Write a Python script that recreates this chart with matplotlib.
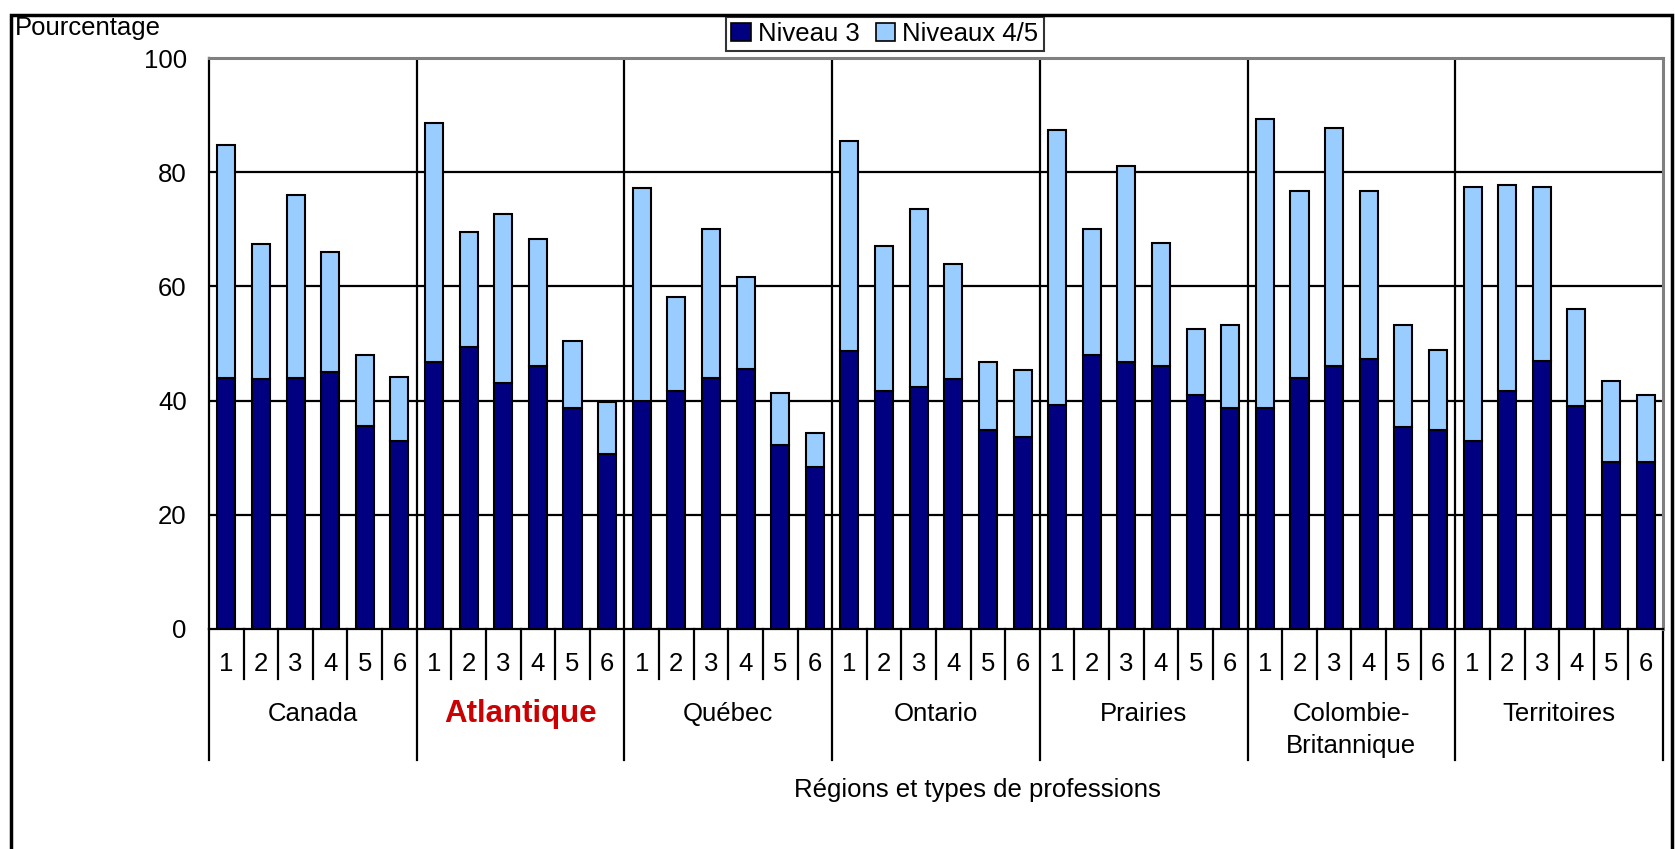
import matplotlib
matplotlib.use("Agg")
import matplotlib.pyplot as plt
import matplotlib.transforms as mtransforms
from matplotlib.patches import Rectangle, Patch
import numpy as np

plt.rcParams['font.family'] = ['Liberation Sans', 'DejaVu Sans']

# ---------------- data ----------------
regions = ["Canada", "Atlantique", "Québec", "Ontario", "Prairies",
           "Colombie-\nBritannique", "Territoires"]
professions = ["1", "2", "3", "4", "5", "6"]
y_ticks = [0, 20, 40, 60, 80, 100]

niveau3 = [
    44.0, 43.7, 44.0, 45.0, 35.6, 33.0,   # Canada
    46.7, 49.3, 43.0, 46.0, 38.7, 30.6,   # Atlantique
    39.9, 41.6, 44.0, 45.6, 32.2, 28.3,   # Québec
    48.6, 41.6, 42.3, 43.7, 34.9, 33.6,   # Ontario
    39.3, 48.0, 46.7, 46.0, 41.0, 38.7,   # Prairies
    38.7, 44.0, 46.0, 47.3, 35.3, 34.9,   # Colombie-Britannique
    33.0, 41.6, 47.0, 39.0, 29.3, 29.3,   # Territoires
]
niveaux45 = [
    40.7, 23.7, 32.0, 21.0, 12.3, 11.1,
    42.0, 20.3, 29.6, 22.3, 11.7, 9.1,
    37.4, 16.6, 26.0, 16.0, 9.1, 6.0,
    36.8, 25.4, 31.3, 20.3, 11.8, 11.8,
    48.1, 22.0, 34.3, 21.6, 11.6, 14.5,
    50.7, 32.7, 41.7, 29.4, 18.0, 13.9,
    44.4, 36.1, 30.4, 17.0, 14.1, 11.7,
]

# ---------------- layout ----------------
W, H = 1675, 849
fig = plt.figure(figsize=(W / 100, H / 100), dpi=100)
fig.patch.set_facecolor("white")

ax_left, ax_right, ax_top, ax_bottom = 209, 1663, 58, 629
ax = fig.add_axes([ax_left / W, 1 - ax_bottom / H,
                   (ax_right - ax_left) / W, (ax_bottom - ax_top) / H])

dark = "#000080"
light = "#99CCFF"
fs = 18.5

n_grp = len(professions)
n = len(niveau3)
x = np.arange(n)

ax.bar(x, niveau3, width=0.52, color=dark, edgecolor="black", linewidth=1.5,
       zorder=3, label="Niveau 3")
ax.bar(x, niveaux45, width=0.52, bottom=niveau3, color=light,
       edgecolor="black", linewidth=1.5, zorder=3, label="Niveaux 4/5")

ax.set_xlim(-0.5, n - 0.5)
ax.set_ylim(0, 100)
ax.set_yticks(y_ticks)
ax.set_yticklabels([str(t) for t in y_ticks], fontsize=fs)
ax.tick_params(axis="y", length=0, pad=16)
ax.set_xticks([])

for t in y_ticks[1:-1]:
    ax.axhline(t, color="black", linewidth=1.6, zorder=1)

for s in ["left", "bottom"]:
    ax.spines[s].set_color("black")
    ax.spines[s].set_linewidth(1.6)
for s in ["top", "right"]:
    ax.spines[s].set_color("#808080")
    ax.spines[s].set_linewidth(2.2)

# group boundaries inside plot
for g in range(1, len(regions)):
    ax.axvline(g * n_grp - 0.5, color="black", linewidth=1.6, zorder=1)

# lines below the axis
trans = mtransforms.blended_transform_factory(ax.transData, ax.transAxes)
ah = ax_bottom - ax_top
short_y = -(679 - ax_bottom) / ah
long_y = -(760 - ax_bottom) / ah
for k in range(n + 1):
    xb = k - 0.5
    yb = long_y if k % n_grp == 0 else short_y
    ax.plot([xb, xb], [0, yb], color="black", linewidth=1.6,
            transform=trans, clip_on=False)

# profession numbers
num_y = -(664 - ax_bottom) / ah
for i in range(n):
    ax.text(i, num_y, professions[i % n_grp], transform=trans, ha="center",
            va="center", fontsize=fs)

# region names
for g, name in enumerate(regions):
    cx = g * n_grp + (n_grp - 1) / 2
    lines = name.split("\n")
    for j, line in enumerate(lines):
        yy = -(714 + 32 * j - ax_bottom) / ah
        if name == "Atlantique":
            ax.text(cx, yy, line, transform=trans, ha="center", va="center",
                    fontsize=22.5, fontweight="bold", color="#CC0000")
        else:
            ax.text(cx, yy, line, transform=trans, ha="center", va="center",
                    fontsize=fs)

# axis titles
fig.text(977 / W, 1 - 790 / H, "Régions et types de professions",
         ha="center", va="center", fontsize=fs)
fig.text(15 / W, 1 - 28 / H, "Pourcentage", ha="left", va="center",
         fontsize=fs)

# legend
handles = [Patch(facecolor=dark, edgecolor="black", linewidth=1.2),
           Patch(facecolor=light, edgecolor="black", linewidth=1.2)]
leg = fig.legend(handles, ["Niveau 3", "Niveaux 4/5"], loc="center",
                 bbox_to_anchor=(885 / W, 1 - 34 / H), ncol=2, fontsize=fs,
                 frameon=True, fancybox=False, handlelength=0.75,
                 handleheight=0.75, handletextpad=0.3, columnspacing=0.6,
                 borderpad=0.2, borderaxespad=0)
leg.get_frame().set_edgecolor("black")
leg.get_frame().set_linewidth(1.5)

# outer frame
fig.patches.append(Rectangle((11 / W, -0.02), (1672 - 11) / W,
                             1.02 - 15 / H, transform=fig.transFigure,
                             fill=False, edgecolor="black", linewidth=2.5,
                             zorder=0))

fig.savefig("out.png", dpi=100)
